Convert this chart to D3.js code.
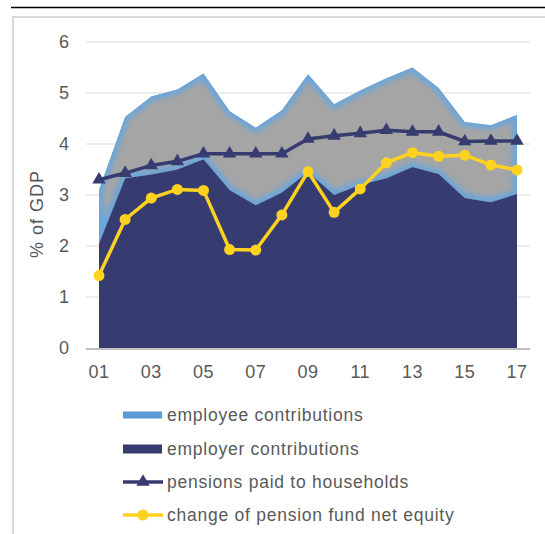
<!DOCTYPE html>
<html>
<head>
<meta charset="utf-8">
<script src="https://d3js.org/d3.v7.min.js"></script>
<style>
  body { margin: 0; background: #fff; }
  svg { display: block; font-family: "Liberation Sans", Arial, sans-serif; }
</style>
</head>
<body>
<div id="chart"></div>
<script>
// years 2001..2017, shown as two-digit labels
const years = d3.range(2001, 2018);
const tickYears = [2001, 2003, 2005, 2007, 2009, 2011, 2013, 2015, 2017];

// % of GDP
const employer = [2.05, 3.33, 3.40, 3.50, 3.70, 3.10, 2.80, 3.05, 3.45, 3.00, 3.20, 3.33, 3.55, 3.41, 2.94, 2.86, 3.02];
const totalContrib = [3.10, 4.53, 4.93, 5.07, 5.38, 4.64, 4.32, 4.66, 5.37, 4.78, 5.05, 5.29, 5.50, 5.10, 4.43, 4.37, 4.57];
const employee = totalContrib.map((t, i) => +(t - employer[i]).toFixed(2));
const pensionsPaid = [3.30, 3.43, 3.58, 3.66, 3.81, 3.81, 3.81, 3.81, 4.10, 4.16, 4.21, 4.27, 4.24, 4.24, 4.05, 4.06, 4.06];
const equityChange = [1.42, 2.52, 2.94, 3.11, 3.09, 1.93, 1.92, 2.61, 3.46, 2.66, 3.12, 3.63, 3.83, 3.76, 3.78, 3.59, 3.49];

const legendItems = [
  { label: "employee contributions", type: "rect", color: "#5B9BD5", h: 7 },
  { label: "employer contributions", type: "rect", color: "#363B70", h: 9 },
  { label: "pensions paid to households", type: "tri", color: "#363B70" },
  { label: "change of pension fund net equity", type: "dot", color: "#FFD21F" }
];

const width = 545, height = 534;
const svg = d3.select("#chart").append("svg")
  .attr("width", width)
  .attr("height", height);

// cut-off title rule at the very top
svg.append("line")
  .attr("x1", 11).attr("x2", width)
  .attr("y1", 7.5).attr("y2", 7.5)
  .attr("stroke", "#000").attr("stroke-width", 1.5);

// chart frame
svg.append("path")
  .attr("d", `M13,${height} V17 H${width}`)
  .attr("fill", "none")
  .attr("stroke", "#D9D9D9")
  .attr("stroke-width", 2);

const x = d3.scaleLinear().domain([2001, 2017]).range([99, 517]);
const y = d3.scaleLinear().domain([0, 6]).range([348, 42]);

// gridlines
svg.append("g")
  .selectAll("line")
  .data(d3.range(1, 7))
  .join("line")
  .attr("x1", 86).attr("x2", 530)
  .attr("y1", d => y(d)).attr("y2", d => y(d))
  .attr("stroke", "#D9D9D9").attr("stroke-width", 1);

const defs = svg.append("defs");
defs.append("filter").attr("id", "glow")
  .attr("x", "-10%").attr("y", "-10%").attr("width", "120%").attr("height", "120%")
  .append("feGaussianBlur").attr("stdDeviation", 2.5);

const stacked = years.map((yr, i) => ({ yr, e0: employer[i], e1: employer[i] + employee[i] }));

const upperArea = d3.area()
  .x(d => x(d.yr))
  .y0(d => y(d.e0))
  .y1(d => y(d.e1));

const lowerArea = d3.area()
  .x(d => x(d.yr))
  .y0(y(0))
  .y1(d => y(d.e0));

defs.append("clipPath").attr("id", "empClip")
  .append("path").attr("d", upperArea(stacked));

// employee contributions: gray with soft blue edge
svg.append("path")
  .attr("d", upperArea(stacked))
  .attr("fill", "#A5A5A5");
svg.append("path")
  .attr("d", upperArea(stacked))
  .attr("fill", "none")
  .attr("stroke", "#6AA6DC")
  .attr("stroke-width", 9)
  .attr("filter", "url(#glow)")
  .attr("clip-path", "url(#empClip)");

// employer contributions
svg.append("path")
  .attr("d", lowerArea(stacked))
  .attr("fill", "#363B70");

// x axis baseline
svg.append("line")
  .attr("x1", 86).attr("x2", 530)
  .attr("y1", y(0) + 1).attr("y2", y(0) + 1)
  .attr("stroke", "#BFBFBF").attr("stroke-width", 2);

// pensions paid line
const line = d3.line().x(d => x(d[0])).y(d => y(d[1]));
svg.append("path")
  .attr("d", line(years.map((yr, i) => [yr, pensionsPaid[i]])))
  .attr("fill", "none")
  .attr("stroke", "#363B70")
  .attr("stroke-width", 3.5);

const tri = d3.symbol().type(d3.symbolTriangle).size(78);
svg.append("g")
  .selectAll("path")
  .data(years)
  .join("path")
  .attr("d", tri)
  .attr("transform", (d, i) => `translate(${x(d)},${y(pensionsPaid[i])})`)
  .attr("fill", "#363B70");

// change of net equity line
svg.append("path")
  .attr("d", line(years.map((yr, i) => [yr, equityChange[i]])))
  .attr("fill", "none")
  .attr("stroke", "#FFD21F")
  .attr("stroke-width", 3.5);

svg.append("g")
  .selectAll("circle")
  .data(years)
  .join("circle")
  .attr("cx", d => x(d))
  .attr("cy", (d, i) => y(equityChange[i]))
  .attr("r", 5.5)
  .attr("fill", "#FFD21F");

// y tick labels
svg.append("g")
  .selectAll("text")
  .data(d3.range(0, 7))
  .join("text")
  .attr("x", 69)
  .attr("y", d => y(d))
  .attr("dy", "0.36em")
  .attr("text-anchor", "end")
  .attr("font-size", 18)
  .attr("fill", "#595959")
  .text(d => d);

// x tick labels
svg.append("g")
  .selectAll("text")
  .data(tickYears)
  .join("text")
  .attr("x", d => x(d))
  .attr("y", 372)
  .attr("dy", "0.36em")
  .attr("text-anchor", "middle")
  .attr("font-size", 18)
  .attr("letter-spacing", 0.5)
  .attr("fill", "#595959")
  .text(d => String(d).slice(2));

// y axis title
svg.append("text")
  .attr("transform", "translate(43,214) rotate(-90)")
  .attr("text-anchor", "middle")
  .attr("font-size", 18)
  .attr("letter-spacing", 1)
  .attr("fill", "#595959")
  .text("% of GDP");

// legend
const legend = svg.append("g");
const rowY = [415, 449, 482, 515];
legendItems.forEach((item, i) => {
  const g = legend.append("g").attr("transform", `translate(0,${rowY[i]})`);
  if (item.type === "rect") {
    g.append("rect")
      .attr("x", 123).attr("y", -item.h / 2)
      .attr("width", 39).attr("height", item.h)
      .attr("fill", item.color);
  } else {
    g.append("line")
      .attr("x1", 123).attr("x2", 163)
      .attr("stroke", item.color).attr("stroke-width", 3.5);
    if (item.type === "tri") {
      g.append("path").attr("d", tri).attr("transform", "translate(143,0)").attr("fill", item.color);
    } else {
      g.append("circle").attr("cx", 143).attr("r", 5.5).attr("fill", item.color);
    }
  }
  g.append("text")
    .attr("x", 167)
    .attr("dy", "0.36em")
    .attr("font-size", 17.5)
    .attr("letter-spacing", 0.75)
    .attr("fill", "#595959")
    .text(item.label);
});
</script>
</body>
</html>
